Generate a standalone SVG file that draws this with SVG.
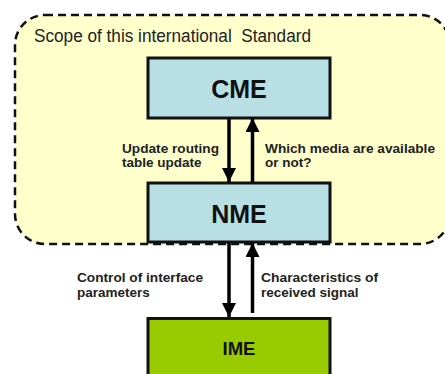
<svg xmlns="http://www.w3.org/2000/svg" width="445" height="374" viewBox="0 0 445 374">
<style>
.box{stroke:#111;stroke-width:3}
.title{font-family:"Liberation Sans",Arial,sans-serif;font-weight:bold;fill:#111;text-anchor:middle}
.lbl{font-family:"Liberation Sans",Arial,sans-serif;font-weight:bold;font-size:13.5px;fill:#222}
.conn{stroke:#000;stroke-width:3.5;fill:none}
</style>
<defs>
<marker id="ah" markerUnits="userSpaceOnUse" markerWidth="14" markerHeight="14" viewBox="0 0 14 14" refX="14" refY="7" orient="auto">
<path d="M0,0 L14,7 L0,14 Z" fill="#000"/>
</marker>
</defs>
<g id="scope">
<rect x="15" y="15" width="435" height="229" rx="30" ry="30" fill="#ffffcc" stroke="#111" stroke-width="2.5" stroke-dasharray="8,5"/>
<text x="34" y="42" font-family="Liberation Sans,Arial,sans-serif" font-size="17.5" fill="#222" textLength="277" lengthAdjust="spacingAndGlyphs" xml:space="preserve">Scope of this international  Standard</text>
</g>
<g id="cme">
<rect class="box" x="148" y="58" width="182" height="60" fill="#b8dfe3"/>
<text class="title" x="239" y="98" font-size="25">CME</text>
</g>
<g id="nme">
<rect class="box" x="148" y="183" width="182" height="59" fill="#b8dfe3"/>
<text class="title" x="239" y="223" font-size="25">NME</text>
</g>
<g id="ime">
<rect class="box" x="148" y="318.5" width="182" height="62" fill="#99cc00"/>
<text class="title" x="239" y="355" font-size="18.5">IME</text>
</g>
<g id="connectors">
<line class="conn" x1="229" y1="119" x2="229" y2="182" marker-end="url(#ah)"/>
<line class="conn" x1="252.5" y1="182" x2="252.5" y2="118" marker-end="url(#ah)"/>
<line class="conn" x1="229" y1="243" x2="229" y2="317" marker-end="url(#ah)"/>
<line class="conn" x1="252.5" y1="313" x2="252.5" y2="243" marker-end="url(#ah)"/>
</g>
<g id="labels">
<text class="lbl" x="122" y="152.5" textLength="97" lengthAdjust="spacingAndGlyphs">Update routing</text>
<text class="lbl" x="122" y="167">table update</text>
<text class="lbl" x="265" y="152.5" textLength="170" lengthAdjust="spacingAndGlyphs">Which media are available</text>
<text class="lbl" x="265" y="167">or not?</text>
<text class="lbl" x="77" y="282" textLength="126" lengthAdjust="spacingAndGlyphs">Control of interface</text>
<text class="lbl" x="77" y="297">parameters</text>
<text class="lbl" x="261" y="282" textLength="117" lengthAdjust="spacingAndGlyphs">Characteristics of</text>
<text class="lbl" x="261" y="297">received signal</text>
</g>
</svg>
